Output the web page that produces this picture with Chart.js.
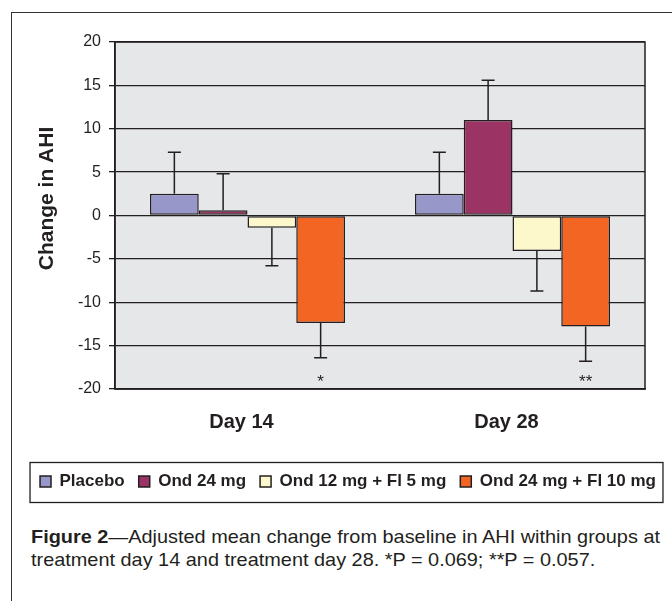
<!DOCTYPE html>
<html>
<head>
<meta charset="utf-8">
<script src="https://cdn.jsdelivr.net/npm/chart.js@4.4.1/dist/chart.umd.min.js"></script>
<style>
  html, body { margin: 0; padding: 0; background: #fff; overflow: hidden; }
  body { width: 672px; height: 601px; position: relative; }
  #frame { position: absolute; left: 11px; top: 12px; width: 700px; height: 620px;
           border-left: 1.5px solid #333; border-top: 1.5px solid #333; }
  #wrap { position: absolute; left: 0; top: 0; width: 696px; height: 504px; }
  #caption { position: absolute; left: 31px; top: 525px;
             font-family: "Liberation Sans", Arial, sans-serif;
             font-size: 19px; line-height: 23px; color: #231f20; }
  #caption div { white-space: nowrap; transform-origin: 0 0; }
</style>
</head>
<body>
<div id="frame"></div>
<div id="wrap"><canvas id="ahiChart"></canvas></div>
<div id="caption">
  <div id="cap1"><b>Figure 2</b>—Adjusted mean change from baseline in AHI within groups at</div>
  <div id="cap2">treatment day 14 and treatment day 28. *P = 0.069; **P = 0.057.</div>
</div>

<script>
// Data
const days = ['Day 14', 'Day 28'];
const groups = ['Placebo', 'Ond 24 mg', 'Ond 12 mg + Fl 5 mg', 'Ond 24 mg + Fl 10 mg'];
const placebo = [2.5, 2.5];
const ond24 = [0.6, 11.0];
const ond12fl5 = [-1.4, -4.1];
const ond24fl10 = [-12.4, -12.8];
// error bar length (drawn away from zero)
const placeboErr = [4.8, 4.8];
const ond24Err = [4.2, 4.6];
const ond12fl5Err = [4.4, 4.6];
const ond24fl10Err = [4.0, 4.0];
// significance marks under the last group
const sigMarks = ['*', '**'];
const sigValue = -19.8;
const yTicks = [-20, -15, -10, -5, 0, 5, 10, 15, 20];

const sans = '"Liberation Sans", Arial, sans-serif';
const ink = '#231f20';

const colors = ['#9897c9', '#9b3465', '#fcf8cc', '#f26522'];
const values = [placebo, ond24, ond12fl5, ond24fl10];
const errors = [placeboErr, ond24Err, ond12fl5Err, ond24fl10Err];

// Plot background, border, legend box and axis title
const plotBox = {
    id: 'plotBox',
    beforeDraw(chart) {
        const {ctx, chartArea: a} = chart;
        ctx.save();
        ctx.fillStyle = '#e6e7e8';
        ctx.fillRect(a.left, a.top, a.right - a.left, a.bottom - a.top);
        ctx.restore();
    },
    afterDraw(chart) {
        const {ctx, chartArea: a} = chart;
        ctx.save();
        ctx.strokeStyle = ink;
        ctx.lineWidth = 1.5;
        ctx.strokeRect(a.left, a.top, a.right - a.left, a.bottom - a.top);
        // box around the legend
        const boxes = chart.legend.legendHitBoxes;
        if (boxes.length) {
            const first = boxes[0], last = boxes[boxes.length - 1];
            const mid = first.top + first.height / 2;
            const x1 = first.left - 10, x2 = last.left + last.width + 7;
            ctx.lineWidth = 1.3;
            ctx.strokeRect(x1, mid - 19, x2 - x1, 40);
        }
        // y axis title
        ctx.fillStyle = ink;
        ctx.font = 'bold 21px ' + sans;
        ctx.textAlign = 'center';
        ctx.textBaseline = 'middle';
        ctx.translate(47, (a.top + a.bottom) / 2 - 17);
        ctx.rotate(-Math.PI / 2);
        ctx.fillText('Change in AHI', 0, 0);
        ctx.restore();
    }
};

// One-sided error bars and significance stars
const errorBars = {
    id: 'errorBars',
    afterDatasetsDraw(chart) {
        const {ctx} = chart;
        const y = chart.scales.y;
        ctx.save();
        ctx.strokeStyle = ink;
        ctx.lineWidth = 1.5;
        chart.data.datasets.forEach((ds, di) => {
            const meta = chart.getDatasetMeta(di);
            meta.data.forEach((bar, i) => {
                const v = ds.data[i];
                const end = v >= 0 ? v + errors[di][i] : v - errors[di][i];
                const y0 = y.getPixelForValue(v);
                const y1 = y.getPixelForValue(end);
                ctx.beginPath();
                ctx.moveTo(bar.x, y0);
                ctx.lineTo(bar.x, y1);
                ctx.moveTo(bar.x - 6.5, y1);
                ctx.lineTo(bar.x + 6.5, y1);
                ctx.stroke();
            });
        });
        const last = chart.getDatasetMeta(3);
        ctx.fillStyle = ink;
        ctx.font = '17px ' + sans;
        ctx.textAlign = 'center';
        ctx.textBaseline = 'alphabetic';
        last.data.forEach((bar, i) => {
            ctx.fillText(sigMarks[i], bar.x, y.getPixelForValue(sigValue));
        });
        ctx.restore();
    }
};

function fitCaption() {
    // squeeze caption lines to the narrow width of the original
    const line1 = document.getElementById('cap1');
    const line2 = document.getElementById('cap2');
    const k = 629 / line1.getBoundingClientRect().width;
    line1.style.transform = 'scaleX(' + k + ')';
    line2.style.transform = 'scaleX(' + k + ')';
}

function initChart() {
    const ctx = document.getElementById('ahiChart').getContext('2d');
    new Chart(ctx, {
        type: 'bar',
        data: {
            labels: days,
            datasets: groups.map((g, i) => ({
                label: g,
                data: values[i],
                backgroundColor: colors[i],
                borderColor: ink,
                borderWidth: 1.5,
                borderSkipped: false,
                categoryPercentage: 0.736,
                barPercentage: 1.0
            }))
        },
        options: {
            responsive: true,
            maintainAspectRatio: false,
            animation: false,
            layout: { padding: { left: 0, right: 0, top: 42, bottom: 4 } },
            plugins: {
                tooltip: { enabled: false },
                legend: {
                    position: 'bottom',
                    labels: {
                        boxWidth: 11,
                        boxHeight: 11,
                        padding: 14,
                        color: ink,
                        font: { family: sans, size: 17, weight: 'bold' }
                    }
                }
            },
            scales: {
                x: {
                    grid: { display: false },
                    border: { display: true, color: ink, width: 1.5 },
                    ticks: {
                        color: ink,
                        padding: 13,
                        labelOffset: -6,
                        font: { family: sans, size: 20, weight: 'bold' }
                    },
                    afterFit(scale) { scale.height = 70; }
                },
                y: {
                    min: -20,
                    max: 20,
                    afterBuildTicks(scale) { scale.ticks = yTicks.map(v => ({ value: v })); },
                    grid: { color: ink, lineWidth: 1.3, tickLength: 6, drawTicks: true },
                    border: { display: true, color: ink, width: 1.5 },
                    ticks: {
                        color: ink,
                        padding: 8,
                        font: { family: sans, size: 16 }
                    },
                    afterFit(scale) { scale.width = 115; }
                },
                // empty right-hand margin so the legend centres like the original
                yRight: {
                    position: 'right',
                    grid: { display: false },
                    border: { display: false },
                    ticks: { display: false },
                    afterFit(scale) { scale.width = 51; }
                }
            }
        },
        plugins: [plotBox, errorBars]
    });
}

document.addEventListener('DOMContentLoaded', function() {
    fitCaption();
    initChart();
});
</script>
</body>
</html>
